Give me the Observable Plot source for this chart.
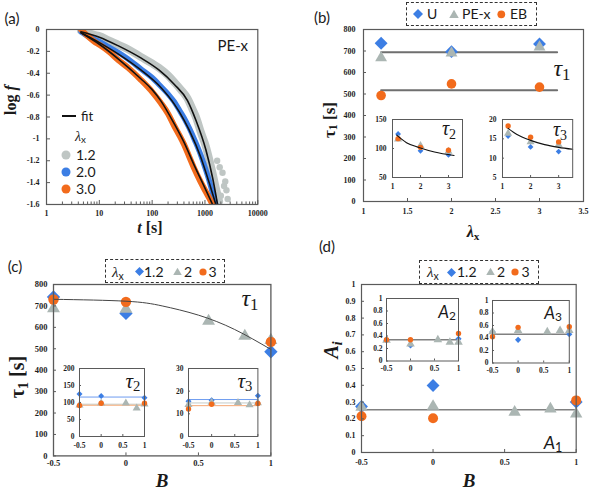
<!DOCTYPE html>
<html><head><meta charset="utf-8">
<script src="https://cdn.jsdelivr.net/npm/d3@7"></script>
<script src="https://cdn.jsdelivr.net/npm/@observablehq/plot@0.6"></script>
<style>
body{margin:0;background:#fff}
#root{position:relative;width:590px;height:493px;overflow:hidden;background:#fff}
#root svg{position:absolute;background:transparent;overflow:visible;max-width:none}
.lbl{position:absolute;white-space:nowrap;line-height:1;color:#1a1a1a}
.lbl sub{font-size:0.7em;vertical-align:-0.25em;line-height:0}
.box{position:absolute;border:1px dashed #333;background:#fff;box-sizing:border-box}
</style></head><body><div id="root"></div>
<script>
// ================= DATA =================
// (a) relaxation curves: t [s], log f
const aT_grey   = [4.5,6,8,10,15,23,35,61,100,134,200,261,350,467,570,674,850,1040,1250,1400,1550,1700,1850];
const aF_grey   = [-0.01,-0.03,-0.05,-0.06,-0.1,-0.14,-0.18,-0.25,-0.31,-0.35,-0.42,-0.48,-0.55,-0.63,-0.72,-0.8,-0.95,-1.07,-1.22,-1.32,-1.42,-1.5,-1.57];
const aTailT    = [1700,1900,2000,2150,2300,2420,2550,2690];
const aTailF    = [-1.2,-1.26,-1.52,-1.31,-1.43,-1.39,-1.47,-1.55];
const aT_blue   = [4.5,6,8,10,15,23,35,61,100,146,200,261,330,404,503,650,836,1000,1200,1400,1600];
const aF_blue   = [-0.02,-0.06,-0.09,-0.11,-0.16,-0.21,-0.27,-0.36,-0.44,-0.52,-0.59,-0.66,-0.74,-0.81,-0.9,-1.02,-1.15,-1.26,-1.38,-1.5,-1.6];
const aT_orange = [4.5,6,8,10,15,23,35,61,100,145,200,261,330,400,500,624,800,1000,1200,1393];
const aF_orange = [0,-0.06,-0.11,-0.14,-0.2,-0.28,-0.35,-0.46,-0.57,-0.67,-0.77,-0.88,-0.97,-1.05,-1.16,-1.27,-1.38,-1.47,-1.54,-1.6];
const aFitT_grey   = [4.5,10,23,61,134,261,467,674,1040,1400,1730];
const aFitF_grey   = [-0.02,-0.07,-0.15,-0.26,-0.37,-0.5,-0.65,-0.83,-1.1,-1.36,-1.6];
const aFitT_blue   = [4.5,10,23,61,146,261,404,503,836,1200,1607];
const aFitF_blue   = [-0.03,-0.12,-0.225,-0.37,-0.53,-0.68,-0.83,-0.92,-1.17,-1.4,-1.6];
const aFitT_orange = [4.5,10,23,61,100,145,261,400,624,1000,1393];
const aFitF_orange = [-0.03,-0.135,-0.27,-0.45,-0.55,-0.65,-0.86,-1.03,-1.24,-1.45,-1.6];
const aXTicks = [1,10,100,1000,10000];
const aXMinor = [2,3,4,5,6,7,8,9,20,30,40,50,60,70,80,90,200,300,400,500,600,700,800,900,2000,3000,4000,5000,6000,7000,8000,9000];
const aYTicks = [0,-0.2,-0.4,-0.6,-0.8,-1,-1.2,-1.4,-1.6];
const aLegend = ["1.2","2.0","3.0"];

// (b) tau vs lambda_x
const bLam = [1.2, 2, 3];
const bTau1_U = [736, 697, 733];
const bTau1_PEx = [668, 690, 718];
const bTau1_EB = [493, 547, 532];
const bLineX = [1.2, 3.2];
const bMean_UP = 694;
const bMean_EB = 517;
const bTau2_U = [125, 96, 89];
const bTau2_PEx = [116, 105, 95];
const bTau2_EB = [117, 102, 97];
const bFit2X = [1.15, 1.5, 2, 2.5, 3.2];
const bFit2Y = [123, 110, 101, 94, 88];
const bTau3_U = [15.7, 12.9, 11.7];
const bTau3_PEx = [16.4, 14.2, 13.5];
const bTau3_EB = [18.3, 15.4, 14.2];
const bFit3X = [1.2, 1.5, 2, 2.5, 3, 3.5];
const bFit3Y = [17.7, 16.2, 14.6, 13.5, 12.8, 12.3];
const bXTicks = [1,1.5,2,2.5,3,3.5];
const bYTicks = [0,100,200,300,400,500,600,700,800];
const bInXTicks = [1,2,3];
const bIn2YTicks = [50,100,150];
const bIn3YTicks = [5,10,15,20];
const bLegend = ["U","PE-x","EB"];

// (c) tau vs B
const cB12 = [-0.5, 0, 1];
const cB2  = [-0.5, 0, 0.57, 0.82, 1];
const cB3  = [-0.5, 0, 1];
const cTau1_12 = [742, 665, 486];
const cTau1_2  = [688, 685, 629, 559, 540];
const cTau1_3  = [730, 719, 532];
const cFitB = [-0.5, 0, 0.25, 0.5, 0.75, 1];
const cFitT = [731, 722, 700, 657, 590, 497];
const cTau2_12 = [125, 119, 114];
const cTau2_2  = [92, 98, 98, 83, 95];
const cTau2_3  = [91, 98, 98];
const cTau2Lines = [116, 95, 92];   // 1.2, 2, 3
const cTau3_12 = [15.5, 16, 18];
const cTau3_2  = [14, 15, 14.9, 13.9, 14.8];
const cTau3_3  = [12.1, 14.2, 14.6];
const cTau3Lines = [16.3, 14.8, 13.6];
const cXTicks = [-0.5, 0, 0.5, 1];
const cYTicks = [0,100,200,300,400,500,600,700,800];
const cIn2YTicks = [0,50,100,150,200];
const cIn3YTicks = [0,10,20,30];
const cLegend = ["1.2","2","3"];

// (d) A_i vs B
const dA1_12 = [0.274, 0.399, 0.30];
const dA1_2  = [0.27, 0.275, 0.24, 0.26, 0.23];
const dA1_3  = [0.216, 0.204, 0.31];
const dA1Line = 0.255;
const dA2_12 = [0.33, 0.25, 0.355];
const dA2_2  = [0.33, 0.27, 0.34, 0.30, 0.30];
const dA2_3  = [0.34, 0.34, 0.44];
const dA2Line = 0.34;
const dA3_12 = [0.5, 0.37, 0.46];
const dA3_2  = [0.5, 0.52, 0.5, 0.52, 0.52];
const dA3_3  = [0.42, 0.57, 0.58];
const dA3Line = 0.46;
const dYTicks = [0,0.1,0.2,0.3,0.4,0.5,0.6,0.7,0.8,0.9,1];
const dInYTicks = [0,0.2,0.4,0.6,0.8,1];

// ================= HELPERS =================
const root = document.getElementById("root");
const COL = {blue:"#3c7ee4", grey:"#abb6b3", orange:"#f26b1c", frame:"#5a5a5a", aGrey:"#bfc6c4"};
const SERIF = "'Liberation Serif','DejaVu Serif',serif";
const SANS = "Lato,'Open Sans','Liberation Sans',sans-serif";
const fmt = d => String(+(+d).toFixed(2));
const pts = (xs, ys) => xs.map((x, i) => ({x, y: ys[i]}));
const hline = (x0, x1, y) => [{x: x0, y}, {x: x1, y}];

function mkPlot({box, m, x, y, marks, font = 8}) {
  const [x0, y0, x1, y1] = box;
  const [T, R, B, L] = m;
  const svg = Plot.plot({
    width: x1 - x0 + L + R, height: y1 - y0 + T + B,
    marginTop: T, marginRight: R, marginBottom: B, marginLeft: L,
    x, y, marks,
    style: {fontFamily: SERIF, fontSize: font + "px", fontWeight: "bold", color: "#1e1e1e", background: "transparent"}
  });
  svg.style.left = (x0 - L) + "px";
  svg.style.top = (y0 - T) + "px";
  root.appendChild(svg);
  return svg;
}
function inTicks(box, xt, yt, len = 3) {
  const W = box[2] - box[0], H = box[3] - box[1];
  return [
    Plot.tickX(xt, {x: d => d, insetTop: H - len, stroke: COL.frame}),
    Plot.tickY(yt, {y: d => d, insetRight: W - len, stroke: COL.frame})
  ];
}
function txt(html, cx, cy, css = "", rot = 0, anchor = "middle") {
  const d = document.createElement("div");
  d.className = "lbl";
  d.innerHTML = html;
  d.style.cssText += css;
  d.style.left = cx + "px"; d.style.top = cy + "px";
  const tx = anchor === "start" ? "0" : anchor === "end" ? "-100%" : "-50%";
  d.style.transform = `translate(${tx},-50%) rotate(${rot}deg)`;
  root.appendChild(d);
  return d;
}
function box(l, t, w, h) {
  const d = document.createElement("div");
  d.className = "box";
  Object.assign(d.style, {left: l + "px", top: t + "px", width: w + "px", height: h + "px"});
  root.appendChild(d);
}
function sym(kind, cx, cy, color, s) {
  const ns = "http://www.w3.org/2000/svg";
  const svg = document.createElementNS(ns, "svg");
  svg.setAttribute("width", 2 * s); svg.setAttribute("height", 2 * s);
  svg.style.left = (cx - s) + "px"; svg.style.top = (cy - s) + "px";
  let el;
  if (kind === "circle") {
    el = document.createElementNS(ns, "circle");
    el.setAttribute("cx", s); el.setAttribute("cy", s); el.setAttribute("r", s * 0.9);
  } else {
    el = document.createElementNS(ns, "polygon");
    el.setAttribute("points", kind === "diamond"
      ? `${s},0 ${2*s},${s} ${s},${2*s} 0,${s}`
      : `${s},${0.15*s} ${1.95*s},${1.8*s} ${0.05*s},${1.8*s}`);
  }
  el.setAttribute("fill", color);
  svg.appendChild(el);
  root.appendChild(svg);
}
function dots(xs, ys, symbol, color, r) {
  return Plot.dot(pts(xs, ys), {x: "x", y: "y", symbol, fill: color, stroke: "none", r});
}
function series3(x12, y12, x2, y2, x3, y3, rs) {
  return [
    dots(x12, y12, "diamond2", COL.blue, rs[0]),
    dots(x2, y2, "triangle", COL.grey, rs[1]),
    dots(x3, y3, "circle", COL.orange, rs[2])
  ];
}

// ================= PANEL (a) =================
{
  const B = [45.7, 29, 257, 204];
  const H = B[3] - B[1];
  const band = (ts, fs, c, w) => Plot.line(pts(ts, fs), {x: "x", y: "y", stroke: c, strokeWidth: w, curve: "monotone-x", strokeLinecap: "round", clip: true});
  const fit = (ts, fs) => Plot.line(pts(ts, fs), {x: "x", y: "y", stroke: "#111", strokeWidth: 1.6, curve: "monotone-x", clip: true});
  mkPlot({
    box: B, m: [6, 8, 18, 30],
    x: {type: "log", domain: [1, 10000], ticks: aXTicks, tickFormat: fmt, tickSize: 0, tickPadding: 6, label: null},
    y: {domain: [-1.6, 0], ticks: aYTicks, tickFormat: fmt, tickSize: 0, tickPadding: 7, label: null},
    marks: [
      band(aT_grey, aF_grey, COL.aGrey, 8),
      Plot.dot(pts(aTailT, aTailF), {x: "x", y: "y", r: 3.2, fill: COL.aGrey, clip: true}),
      band(aT_blue, aF_blue, COL.blue, 5.5),
      band(aT_orange, aF_orange, COL.orange, 6),
      fit(aFitT_grey, aFitF_grey),
      fit(aFitT_blue, aFitF_blue),
      fit(aFitT_orange, aFitF_orange),
      Plot.tickX(aXMinor, {x: d => d, insetTop: H - 2.5, stroke: COL.frame}),
      ...inTicks(B, aXTicks, aYTicks, 4),
      Plot.frame({stroke: COL.frame, strokeWidth: 1.2})
    ]
  });
  txt("(a)", 12, 18, `font-family:${SANS};font-size:15px;`);
  txt("log <i>f</i>", 11, 100, `font-family:${SERIF};font-size:16px;font-weight:bold;`, -90);
  txt("<i>t</i> [s]", 150, 228, `font-family:${SERIF};font-size:16px;font-weight:bold;`);
  txt("PE-x", 248, 45, `font-family:${SANS};font-size:15px;`, 0, "end");
  const ln = document.createElement("div");
  Object.assign(ln.style, {position: "absolute", left: "62px", top: "115px", width: "14px", height: "0", borderTop: "2px solid #111"});
  root.appendChild(ln);
  txt("fit", 81, 116, `font-family:${SANS};font-size:13px;`, 0, "start");
  txt("<i style=\"font-family:" + SERIF + "\">λ</i><sub>x</sub>", 75, 136, `font-family:${SANS};font-size:14px;`, 0, "start");
  const aCols = [COL.aGrey, COL.blue, COL.orange];
  aLegend.forEach((s, i) => {
    const cy = 154.5 + i * 17;
    sym("circle", 65.7, cy, aCols[i], 5);
    txt(s, 76, cy, `font-family:${SANS};font-size:14px;`, 0, "start");
  });
}

// ================= PANEL (b) =================
{
  const B = [363.3, 29, 583.3, 201];
  mkPlot({
    box: B, m: [6, 8, 18, 34],
    x: {domain: [1, 3.5], ticks: bXTicks, tickFormat: fmt, tickSize: 0, tickPadding: 7, label: null},
    y: {domain: [0, 800], ticks: bYTicks, tickFormat: fmt, tickSize: 0, tickPadding: 8, label: null},
    marks: [
      Plot.line(hline(bLineX[0], bLineX[1], bMean_UP), {x: "x", y: "y", stroke: "#6f6f6f", strokeWidth: 2}),
      Plot.line(hline(bLineX[0], bLineX[1], bMean_EB), {x: "x", y: "y", stroke: "#6f6f6f", strokeWidth: 2}),
      ...series3(bLam, bTau1_U, bLam, bTau1_PEx, bLam, bTau1_EB, [5.8, 4.4, 4.8]),
      ...inTicks(B, bXTicks, bYTicks),
      Plot.frame({stroke: COL.frame, strokeWidth: 1.2})
    ]
  });
  const I2 = [391.7, 118.5, 461.7, 176.5];
  mkPlot({
    box: I2, m: [4, 4, 16, 22], font: 7.5,
    x: {domain: [1, 3.5], ticks: bInXTicks, tickFormat: fmt, tickSize: 0, tickPadding: 6, label: null},
    y: {domain: [50, 150], ticks: bIn2YTicks, tickFormat: fmt, tickSize: 0, tickPadding: 6, label: null},
    marks: [
      Plot.frame({fill: "#fff", stroke: "none"}),
      ...series3(bLam, bTau2_U, bLam, bTau2_PEx, bLam, bTau2_EB, [2.6, 3, 2.7]),
      Plot.line(pts(bFit2X, bFit2Y), {x: "x", y: "y", stroke: "#111", strokeWidth: 1.1, curve: "monotone-x"}),
      ...inTicks(I2, bInXTicks, bIn2YTicks, 2),
      Plot.frame({stroke: COL.frame, strokeWidth: 1})
    ]
  });
  const I3 = [502.3, 118.5, 572.5, 176.5];
  mkPlot({
    box: I3, m: [4, 4, 16, 22], font: 7.5,
    x: {domain: [1, 3.5], ticks: bInXTicks, tickFormat: fmt, tickSize: 0, tickPadding: 6, label: null},
    y: {domain: [5, 20], ticks: bIn3YTicks, tickFormat: fmt, tickSize: 0, tickPadding: 6, label: null},
    marks: [
      Plot.frame({fill: "#fff", stroke: "none"}),
      ...series3(bLam, bTau3_U, bLam, bTau3_PEx, bLam, bTau3_EB, [2.6, 3, 2.7]),
      Plot.line(pts(bFit3X, bFit3Y), {x: "x", y: "y", stroke: "#111", strokeWidth: 1.1, curve: "monotone-x"}),
      ...inTicks(I3, bInXTicks, bIn3YTicks, 2),
      Plot.frame({stroke: COL.frame, strokeWidth: 1})
    ]
  });
  txt("(b)", 322, 17, `font-family:${SANS};font-size:15px;`);
  txt("τ<sub>1</sub> [s]", 329, 120, `font-family:${SERIF};font-size:17px;font-weight:bold;`, -90);
  txt("<i>λ</i><sub>x</sub>", 473, 232, `font-family:${SERIF};font-size:16px;font-weight:bold;`);
  txt("<i>τ</i><sub>1</sub>", 562, 68, `font-family:${SERIF};font-size:24px;`);
  txt("<i>τ</i><sub>2</sub>", 449, 128, `font-family:${SERIF};font-size:20px;`);
  txt("<i>τ</i><sub>3</sub>", 560, 129, `font-family:${SERIF};font-size:20px;`);
  box(406, 2, 131, 24);
  sym("diamond", 417.7, 14, COL.blue, 5);
  txt(bLegend[0], 427, 14, `font-family:${SANS};font-size:14px;`, 0, "start");
  sym("triangle", 454, 13.5, COL.grey, 5);
  txt(bLegend[1], 462, 14, `font-family:${SANS};font-size:14px;`, 0, "start");
  sym("circle", 501.7, 14, COL.orange, 4.3);
  txt(bLegend[2], 510, 14, `font-family:${SANS};font-size:14px;`, 0, "start");
}

// ================= PANEL (c) =================
{
  const B = [53.3, 284.3, 270.7, 455.7];
  mkPlot({
    box: B, m: [6, 8, 18, 30], font: 8.5,
    x: {domain: [-0.5, 1], ticks: cXTicks, tickFormat: fmt, tickSize: 0, tickPadding: 4, label: null},
    y: {domain: [0, 800], ticks: cYTicks, tickFormat: fmt, tickSize: 0, tickPadding: 6, label: null},
    marks: [
      ...series3(cB12, cTau1_12, cB2, cTau1_2, cB3, cTau1_3, [6, 4.8, 5.2]),
      Plot.line(pts(cFitB, cFitT), {x: "x", y: "y", stroke: "#444", strokeWidth: 1, curve: "natural"}),
      ...inTicks(B, cXTicks, cYTicks),
      Plot.frame({stroke: COL.frame, strokeWidth: 1.3})
    ]
  });
  const insetC = (IB, yDom, yT, d12, d2, d3, lines) => mkPlot({
    box: IB, m: [4, 6, 16, 22], font: 7.5,
    x: {domain: [-0.5, 1], ticks: cXTicks, tickFormat: fmt, tickSize: 0, tickPadding: 6, label: null},
    y: {domain: yDom, ticks: yT, tickFormat: fmt, tickSize: 0, tickPadding: 5, label: null},
    marks: [
      Plot.frame({fill: "#fff", stroke: "none"}),
      Plot.line(hline(-0.5, 1, lines[0]), {x: "x", y: "y", stroke: "#6d9cf0", strokeWidth: 1}),
      Plot.line(hline(-0.5, 1, lines[1]), {x: "x", y: "y", stroke: "#c3cbc9", strokeWidth: 1}),
      Plot.line(hline(-0.5, 1, lines[2]), {x: "x", y: "y", stroke: "#f5a874", strokeWidth: 1}),
      ...series3(cB12, d12, cB2, d2, cB3, d3, [2.7, 3, 2.7]),
      ...inTicks(IB, cXTicks, yT, 2),
      Plot.frame({stroke: COL.frame, strokeWidth: 1})
    ]
  });
  insetC([79, 367.7, 144, 435.7], [0, 200], cIn2YTicks, cTau2_12, cTau2_2, cTau2_3, cTau2Lines);
  insetC([188.3, 367.7, 257.7, 435.7], [0, 30], cIn3YTicks, cTau3_12, cTau3_2, cTau3_3, cTau3Lines);
  txt("(c)", 15, 266, `font-family:${SANS};font-size:15px;`);
  txt("τ<sub>1</sub> [s]", 17, 377, `font-family:${SERIF};font-size:20px;font-weight:bold;`, -90);
  txt("<i>B</i>", 162, 480, `font-family:${SERIF};font-size:19px;font-weight:bold;`);
  txt("<i>τ</i><sub>1</sub>", 250, 298, `font-family:${SERIF};font-size:24px;`);
  txt("<i>τ</i><sub>2</sub>", 133, 381, `font-family:${SERIF};font-size:21px;`);
  txt("<i>τ</i><sub>3</sub>", 245, 381, `font-family:${SERIF};font-size:21px;`);
  box(105, 259, 120, 24);
  txt("<i style=\"font-family:" + SERIF + "\">λ</i><sub>x</sub>", 112, 271.5, `font-family:${SANS};font-size:15px;`, 0, "start");
  sym("diamond", 139, 271.5, COL.blue, 4.5);
  txt(cLegend[0], 144, 271.5, `font-family:${SANS};font-size:14px;`, 0, "start");
  sym("triangle", 177, 271, COL.grey, 4.5);
  txt(cLegend[1], 184, 271.5, `font-family:${SANS};font-size:14px;`, 0, "start");
  sym("circle", 203, 271.5, COL.orange, 4);
  txt(cLegend[2], 208.5, 271.5, `font-family:${SANS};font-size:14px;`, 0, "start");
}

// ================= PANEL (d) =================
{
  const B = [361, 284, 575.7, 452];
  mkPlot({
    box: B, m: [6, 8, 18, 30],
    x: {domain: [-0.5, 1], ticks: cXTicks, tickFormat: fmt, tickSize: 0, tickPadding: 7, label: null},
    y: {domain: [0, 1], ticks: dYTicks, tickFormat: fmt, tickSize: 0, tickPadding: 6, label: null},
    marks: [
      Plot.line(hline(-0.5, 1, dA1Line), {x: "x", y: "y", stroke: "#808080", strokeWidth: 1.5}),
      ...series3(cB12, dA1_12, cB2, dA1_2, cB3, dA1_3, [5.8, 4.6, 5]),
      ...inTicks(B, cXTicks, dYTicks),
      Plot.frame({stroke: COL.frame, strokeWidth: 1.2})
    ]
  });
  const insetD = (IB, d12, d2, d3, line) => mkPlot({
    box: IB, m: [4, 6, 16, 22], font: 7.5,
    x: {domain: [-0.5, 1], ticks: cXTicks, tickFormat: fmt, tickSize: 0, tickPadding: 5, label: null},
    y: {domain: [0, 1], ticks: dInYTicks, tickFormat: fmt, tickSize: 0, tickPadding: 4, label: null},
    marks: [
      Plot.frame({fill: "#fff", stroke: "none"}),
      Plot.line(hline(-0.5, 1, line), {x: "x", y: "y", stroke: "#808080", strokeWidth: 1.3}),
      ...series3(cB12, d12, cB2, d2, cB3, d3, [2.8, 3.2, 2.7]),
      ...inTicks(IB, cXTicks, dInYTicks, 2),
      Plot.frame({stroke: COL.frame, strokeWidth: 1})
    ]
  });
  insetD([386, 298, 458, 360.5], dA2_12, dA2_2, dA2_3, dA2Line);
  insetD([491.7, 300, 568.5, 362.5], dA3_12, dA3_2, dA3_3, dA3Line);
  txt("(d)", 327, 246, `font-family:${SANS};font-size:15px;`);
  txt("<i>A<sub>i</sub></i>", 331, 350, `font-family:${SERIF};font-size:20px;font-weight:bold;`, -90);
  txt("<i>B</i>", 469, 480, `font-family:${SERIF};font-size:19px;font-weight:bold;`);
  txt("<i>A</i><sub>1</sub>", 553, 442, `font-family:${SANS};font-size:18px;`);
  txt("<i>A</i><sub>2</sub>", 447, 311, `font-family:${SANS};font-size:17px;`);
  txt("<i>A</i><sub>3</sub>", 553, 312, `font-family:${SANS};font-size:17px;`);
  box(419, 260, 120, 24);
  txt("<i style=\"font-family:" + SERIF + "\">λ</i><sub>x</sub>", 427, 272, `font-family:${SANS};font-size:15px;`, 0, "start");
  sym("diamond", 451.7, 272, COL.blue, 4.5);
  txt(cLegend[0], 457, 272, `font-family:${SANS};font-size:14px;`, 0, "start");
  sym("triangle", 490, 271.5, COL.grey, 4.5);
  txt(cLegend[1], 497, 272, `font-family:${SANS};font-size:14px;`, 0, "start");
  sym("circle", 515, 272, COL.orange, 4);
  txt(cLegend[2], 521.5, 272, `font-family:${SANS};font-size:14px;`, 0, "start");
}
</script></body></html>
